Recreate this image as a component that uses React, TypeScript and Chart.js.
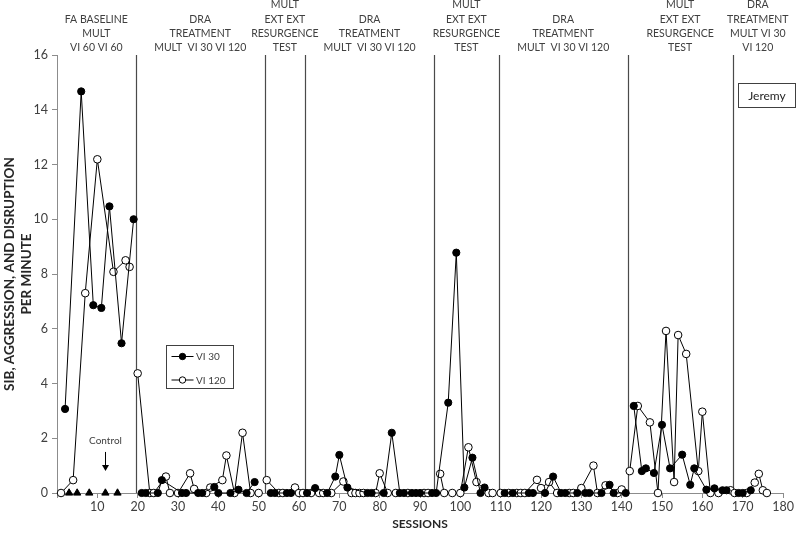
import React, { useEffect, useRef } from "react";
import { Chart, registerables } from "chart.js";

Chart.register(...registerables);

// ---- data ----
const vi30Sessions = [2, 6, 9, 11, 13, 16, 19,
  21, 22, 25, 26, 31, 32, 35, 36, 39, 40, 43, 45, 47, 49,
  53, 54, 57, 58,
  62, 64, 67, 69, 70, 72, 77, 78, 81, 83, 85, 86, 88, 89, 90, 93,
  94, 97, 99, 101, 103, 105, 106,
  111, 113, 117, 118, 121, 123, 125, 126, 129, 131, 132, 135, 137, 138, 141,
  143, 145, 146, 148, 150, 152, 155, 157, 158, 161, 163, 165, 166,
  169, 170, 172];
const vi30Values = [3.07, 14.67, 6.86, 6.76, 10.47, 5.47, 10.0,
  0, 0, 0, 0.47, 0, 0, 0, 0, 0.22, 0, 0, 0.12, 0, 0.4,
  0, 0, 0, 0,
  0, 0.18, 0, 0.6, 1.39, 0.2, 0, 0, 0, 2.2, 0, 0, 0, 0, 0, 0,
  0, 3.3, 8.78, 0.2, 1.29, 0, 0.2,
  0, 0, 0, 0, 0, 0.6, 0, 0, 0, 0, 0, 0, 0.3, 0, 0,
  3.18, 0.8, 0.9, 0.73, 2.49, 0.9, 1.4, 0.3, 0.9, 0.12, 0.17, 0.1, 0.1,
  0, 0, 0.1];

const vi120Sessions = [1, 4, 7, 10, 14, 17, 18,
  20, 23, 24, 27, 28, 30, 33, 34, 37, 38, 41, 42, 44, 46, 48, 50,
  52, 55, 56, 59, 60, 61,
  63, 65, 66, 68, 71, 73, 74, 75, 76, 79, 80, 82, 84, 87, 91, 92,
  95, 96, 98, 100, 102, 104, 107, 108,
  110, 112, 114, 115, 116, 119, 120, 122, 124, 127, 128, 130, 133, 134, 136, 139, 140,
  142, 144, 147, 149, 151, 153, 154, 156, 159, 160, 162, 164, 167,
  168, 171, 173, 174, 175, 176];
const vi120Values = [0, 0.47, 7.3, 12.19, 8.08, 8.5, 8.26,
  4.37, 0, 0, 0.6, 0, 0, 0.72, 0.15, 0, 0.2, 0.47, 1.37, 0, 2.2, 0, 0,
  0.47, 0, 0, 0.2, 0, 0,
  0, 0, 0, 0, 0.42, 0, 0, 0, 0, 0, 0.72, 0, 0, 0, 0, 0,
  0.7, 0, 0, 0, 1.67, 0.4, 0, 0,
  0, 0, 0, 0, 0, 0.48, 0.18, 0.4, 0, 0, 0, 0.18, 1.0, 0, 0.28, 0, 0.13,
  0.8, 3.18, 2.58, 0, 5.92, 0.4, 5.77, 5.08, 0.8, 2.97, 0, 0, 0.1,
  0, 0, 0.38, 0.7, 0.1, 0];

const controlSessions = [3, 5, 8, 12, 15];
const controlValues = [0, 0, 0, 0, 0];

const phaseBounds = [0, 19.5, 51.5, 61.5, 93.5, 109.5, 141.5, 167.5, 180];
const phaseLabels = [
  ["FA BASELINE", "MULT", "VI 60 VI 60"],
  ["DRA", "TREATMENT", "MULT  VI 30 VI 120"],
  ["MULT", "EXT EXT", "RESURGENCE", "TEST"],
  ["DRA", "TREATMENT", "MULT  VI 30 VI 120"],
  ["MULT", "EXT EXT", "RESURGENCE", "TEST"],
  ["DRA", "TREATMENT", "MULT  VI 30 VI 120"],
  ["MULT", "EXT EXT", "RESURGENCE", "TEST"],
  ["DRA", "TREATMENT", "MULT VI 30", "VI 120"],
];

const seriesNames = ["VI 30", "VI 120"];
const subjectName = "Jeremy";
const controlLabel = "Control";
const controlArrow = { session: 12, from: 1.5, to: 0.8, text: 1.9 };

const FONT = "Lato, 'Open Sans', sans-serif";
const TEXT = "#404040";

function withBreaks(xs: number[], ys: number[]) {
  const pts: { x: number; y: number | null }[] = [];
  const breaks = phaseBounds.slice(1, -1);
  for (let i = 0; i < xs.length; i++) {
    if (i > 0) {
      for (const b of breaks) {
        if (xs[i - 1] < b && xs[i] > b) pts.push({ x: b, y: null });
      }
    }
    pts.push({ x: xs[i], y: ys[i] });
  }
  return pts;
}

const overlay = {
  id: "overlay",
  beforeDatasetsDraw(chart: any) {
    const { ctx, chartArea, scales } = chart;
    const xs = scales.x;
    ctx.save();
    ctx.strokeStyle = "#4a4a4a";
    ctx.lineWidth = 1.2;
    for (const b of phaseBounds.slice(1, -1)) {
      const px = Math.round(xs.getPixelForValue(b)) + 0.5;
      ctx.beginPath();
      ctx.moveTo(px, chartArea.top);
      ctx.lineTo(px, chartArea.bottom);
      ctx.stroke();
    }
    ctx.restore();
  },
  afterDraw(chart: any) {
    const { ctx, chartArea, scales } = chart;
    const xs = scales.x;
    const ys = scales.y;
    ctx.save();
    // phase labels
    ctx.fillStyle = TEXT;
    ctx.font = `10.5px ${FONT}`;
    ctx.textAlign = "center";
    ctx.textBaseline = "alphabetic";
    const lh = 14.2;
    for (let i = 0; i < phaseLabels.length; i++) {
      const cx = xs.getPixelForValue((phaseBounds[i] + phaseBounds[i + 1]) / 2);
      const lines = phaseLabels[i];
      const lastY = chartArea.top - 4;
      for (let j = 0; j < lines.length; j++) {
        const y = lastY - (lines.length - 1 - j) * lh;
        ctx.fillText(lines[j], cx, y);
      }
    }
    ctx.textBaseline = "middle";
    // subject box
    ctx.strokeStyle = "#404040";
    ctx.lineWidth = 1;
    ctx.fillStyle = "#fff";
    ctx.fillRect(738.5, 83.5, 57, 24);
    ctx.strokeRect(738.5, 83.5, 57, 24);
    ctx.fillStyle = "#262626";
    ctx.font = `12px ${FONT}`;
    ctx.fillText(subjectName, 767, 96);

    // legend
    const lx = 166.5, ly = 345.5, lw = 67, lhgt = 43;
    ctx.strokeStyle = "#404040";
    ctx.strokeRect(lx, ly, lw, lhgt);
    const rows = [356.5, 380];
    ctx.font = `10px ${FONT}`;
    ctx.textAlign = "left";
    for (let r = 0; r < 2; r++) {
      const y = rows[r];
      ctx.strokeStyle = "#000";
      ctx.beginPath();
      ctx.moveTo(171.5, y);
      ctx.lineTo(193.5, y);
      ctx.stroke();
      ctx.beginPath();
      ctx.arc(182.5, y, 3.2, 0, Math.PI * 2);
      ctx.fillStyle = r === 0 ? "#000" : "#fff";
      ctx.fill();
      ctx.stroke();
      ctx.fillStyle = TEXT;
      ctx.fillText(seriesNames[r], 196, y + 0.5);
    }

    // control annotation
    const ax = Math.round(xs.getPixelForValue(controlArrow.session)) + 0.5;
    const y1 = ys.getPixelForValue(controlArrow.from);
    const y2 = ys.getPixelForValue(controlArrow.to);
    ctx.strokeStyle = "#000";
    ctx.lineWidth = 1;
    ctx.beginPath();
    ctx.moveTo(ax, y1);
    ctx.lineTo(ax, y2 - 5);
    ctx.stroke();
    ctx.fillStyle = "#000";
    ctx.beginPath();
    ctx.moveTo(ax - 3.5, y2 - 6);
    ctx.lineTo(ax + 3.5, y2 - 6);
    ctx.lineTo(ax, y2);
    ctx.closePath();
    ctx.fill();
    ctx.fillStyle = TEXT;
    ctx.font = `10px ${FONT}`;
    ctx.textAlign = "center";
    ctx.fillText(controlLabel, ax, ys.getPixelForValue(controlArrow.text));
    ctx.restore();
  },
};

export default function App() {
  const ref = useRef<HTMLCanvasElement | null>(null);
  useEffect(() => {
    document.body.style.margin = "0";
    if (!ref.current) return;
    const chart = new Chart(ref.current, {
      type: "line",
      data: {
        datasets: [
          {
            label: seriesNames[0],
            data: withBreaks(vi30Sessions, vi30Values),
            borderColor: "#000",
            borderWidth: 1,
            pointRadius: 3.6,
            pointBackgroundColor: "#000",
            pointBorderColor: "#000",
            pointBorderWidth: 1,
            clip: false,
          },
          {
            label: seriesNames[1],
            data: withBreaks(vi120Sessions, vi120Values),
            borderColor: "#000",
            borderWidth: 1,
            pointRadius: 3.8,
            pointBackgroundColor: "#fff",
            pointBorderColor: "#000",
            pointBorderWidth: 1,
            clip: false,
          },
          {
            label: controlLabel,
            data: controlSessions.map((s, i) => ({ x: s, y: controlValues[i] })),
            showLine: false,
            pointStyle: "triangle",
            pointRadius: 4.2,
            pointBackgroundColor: "#000",
            pointBorderColor: "#000",
            clip: false,
          },
        ] as any,
      },
      options: {
        animation: false,
        responsive: false,
        layout: { padding: { top: 55, right: 17, left: 0, bottom: 0 } },
        plugins: { legend: { display: false }, tooltip: { enabled: false } },
        scales: {
          x: {
            type: "linear",
            min: 0,
            max: 180,
            afterFit: (s: any) => { s.height = 41; },
            ticks: {
              stepSize: 10,
              color: TEXT,
              font: { family: FONT, size: 12.5 },
              padding: 1,
              maxRotation: 0,
              callback: (v: any) => (v === 0 ? "" : String(v)),
            },
            grid: { display: true, drawOnChartArea: false, drawTicks: true, tickLength: 5, color: "#8c8c8c" },
            border: { display: true, color: "#8c8c8c" },
            title: {
              display: true,
              text: "SESSIONS",
              color: "#262626",
              font: { family: FONT, size: 12, weight: "bold" },
              padding: { top: 0, bottom: 3 },
            },
          },
          y: {
            min: 0,
            max: 16,
            afterFit: (s: any) => { s.width = 57; },
            ticks: {
              stepSize: 2,
              color: TEXT,
              font: { family: FONT, size: 12.5 },
              padding: 4,
            },
            grid: { display: true, drawOnChartArea: false, drawTicks: true, tickLength: 5, color: "#8c8c8c" },
            border: { display: true, color: "#8c8c8c" },
            title: {
              display: true,
              text: ["SIB, AGGRESSION, AND DISRUPTION", "PER MINUTE"],
              color: "#262626",
              font: { family: FONT, size: 13.5, weight: "bold", lineHeight: 1.2 },
              padding: { top: 2, bottom: 0 },
            },
          },
        },
      },
      plugins: [overlay],
    });
    return () => chart.destroy();
  }, []);
  return (
    <div style={{ width: 800, height: 534 }}>
      <canvas ref={ref} width={800} height={534} />
    </div>
  );
}
